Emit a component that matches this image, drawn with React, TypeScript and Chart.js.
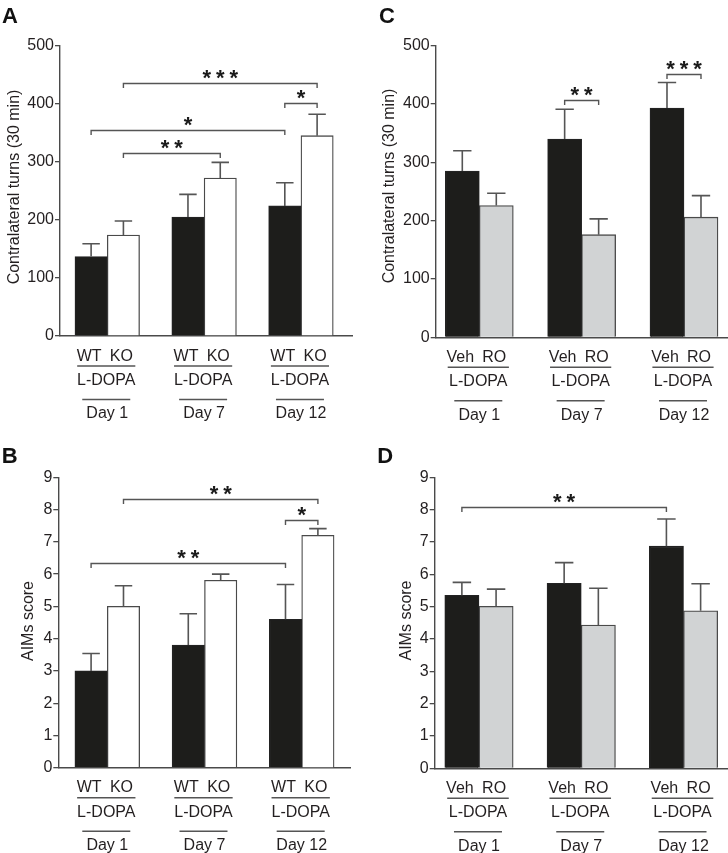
import React, { useEffect, useRef } from 'react';
import { Chart, registerables } from 'chart.js';
Chart.register(...registerables);

const FONT = '"Liberation Sans", Arial, Helvetica, sans-serif';
const TEXT = '#231f20';
const LINE = '#4a4a4a';

// ---------- shared categories ----------
const dayLabels = ['Day 1', 'Day 7', 'Day 12'];
const groupPos = [1, 2, 3];
const treatLabel = 'L-DOPA';

// ---------- Panel A : contralateral turns, WT vs KO ----------
const aSeriesNames = ['WT', 'KO'];
const aWT = [137, 205, 224];
const aWTErr = [159, 244, 264];
const aKO = [174, 272, 345];
const aKOErr = [198, 299, 382];
// [fromGroup, fromSeries, toGroup, toSeries, yValue, label]
const aBrackets: [number, number, number, number, number, string][] = [
  [0, 1, 2, 1, 435, '***'],
  [2, 0, 2, 1, 401, '*'],
  [0, 0, 2, 0, 354, '*'],
  [0, 1, 1, 1, 316, '**'],
];

// ---------- Panel B : AIMs score, WT vs KO ----------
const bSeriesNames = ['WT', 'KO'];
const bWT = [3.0, 3.8, 4.6];
const bWTErr = [3.54, 4.77, 5.68];
const bKO = [5.0, 5.81, 7.2];
const bKOErr = [5.64, 6.0, 7.41];
const bBrackets: [number, number, number, number, number, string][] = [
  [0, 1, 2, 1, 8.32, '**'],
  [2, 0, 2, 1, 7.69, '*'],
  [0, 0, 2, 0, 6.34, '**'],
];

// ---------- Panel C : contralateral turns, Veh vs RO ----------
const cSeriesNames = ['Veh', 'RO'];
const cVeh = [285, 340, 393];
const cVehErr = [320, 391, 437];
const cRO = [226, 176, 206];
const cROErr = [247, 203, 243];
const cBrackets: [number, number, number, number, number, string][] = [
  [1, 0, 1, 1, 407, '**'],
  [2, 0, 2, 1, 452, '***'],
];

// ---------- Panel D : AIMs score, Veh vs RO ----------
const dSeriesNames = ['Veh', 'RO'];
const dVeh = [5.35, 5.72, 6.87];
const dVehErr = [5.75, 6.36, 7.71];
const dRO = [5.01, 4.43, 4.87];
const dROErr = [5.54, 5.57, 5.71];
const dBrackets: [number, number, number, number, number, string][] = [
  [0, 0, 2, 0, 8.07, '**'],
];

const yTitleTurns = 'Contralateral turns (30 min)';
const yTitleAims = 'AIMs score';

type Series = { vals: number[]; err: number[]; fill: string; border: string };
type Panel = {
  letter: string;
  left: number;
  top: number;
  pad: { top: number; bottom: number; left: number; right: number };
  yWidth: number;
  xMin: number;
  xMax: number;
  barT: number;
  yMax: number;
  step: number;
  yTitle: string;
  yTitlePos: [number, number];
  letterPos: [number, number];
  seriesNames: string[];
  series: Series[];
  brackets: [number, number, number, number, number, string][];
};

const BLACK = '#1d1d1b';
const WHITE = '#ffffff';
const GREY = '#d1d3d4';

const panels: Panel[] = [
  {
    letter: 'A', left: 0, top: 0,
    pad: { top: 45.7, bottom: 90, left: 0, right: 12 }, yWidth: 60,
    xMin: 0.512, xMax: 3.527, barT: 32.3, yMax: 500, step: 100,
    yTitle: yTitleTurns, yTitlePos: [15, 187], letterPos: [2, 23],
    seriesNames: aSeriesNames,
    series: [
      { vals: aWT, err: aWTErr, fill: BLACK, border: '#222' },
      { vals: aKO, err: aKOErr, fill: WHITE, border: LINE },
    ],
    brackets: aBrackets,
  },
  {
    letter: 'C', left: 364, top: 0,
    pad: { top: 45.7, bottom: 88.7, left: 0, right: 0 }, yWidth: 71.7,
    xMin: 0.574, xMax: 3.43, barT: 34, yMax: 500, step: 100,
    yTitle: yTitleTurns, yTitlePos: [26, 186], letterPos: [15, 22.7],
    seriesNames: cSeriesNames,
    series: [
      { vals: cVeh, err: cVehErr, fill: BLACK, border: '#222' },
      { vals: cRO, err: cROErr, fill: GREY, border: LINE },
    ],
    brackets: cBrackets,
  },
  {
    letter: 'B', left: 0, top: 427,
    pad: { top: 50.3, bottom: 85.3, left: 0, right: 14 }, yWidth: 58.3,
    xMin: 0.496, xMax: 3.497, barT: 32.4, yMax: 9, step: 1,
    yTitle: yTitleAims, yTitlePos: [28.5, 194], letterPos: [1.7, 35.7],
    seriesNames: bSeriesNames,
    series: [
      { vals: bWT, err: bWTErr, fill: BLACK, border: '#222' },
      { vals: bKO, err: bKOErr, fill: WHITE, border: LINE },
    ],
    brackets: bBrackets,
  },
  {
    letter: 'D', left: 364, top: 427,
    pad: { top: 50.3, bottom: 84.7, left: 0, right: 0 }, yWidth: 70.7,
    xMin: 0.567, xMax: 3.435, barT: 34.2, yMax: 9, step: 1,
    yTitle: yTitleAims, yTitlePos: [42.5, 193.5], letterPos: [13.3, 35.7],
    seriesNames: dSeriesNames,
    series: [
      { vals: dVeh, err: dVehErr, fill: BLACK, border: '#222' },
      { vals: dRO, err: dROErr, fill: GREY, border: LINE },
    ],
    brackets: dBrackets,
  },
];

function makePlugin(p: Panel) {
  return {
    id: 'extras' + p.letter,
    afterDatasetsDraw(chart: any) {
      const ctx: CanvasRenderingContext2D = chart.ctx;
      const ys = chart.scales.y;
      const xs = chart.scales.x;
      const bottom = chart.chartArea.bottom;
      ctx.save();
      // error bars (upper whisker only)
      p.series.forEach((s, di) => {
        const meta = chart.getDatasetMeta(di);
        meta.data.forEach((bar: any, j: number) => {
          const top = ys.getPixelForValue(s.err[j]);
          const cx = bar.x;
          const half = bar.width * 0.27;
          ctx.strokeStyle = '#555';
          ctx.lineWidth = 1.6;
          ctx.beginPath();
          ctx.moveTo(cx, bar.y);
          ctx.lineTo(cx, top);
          ctx.moveTo(cx - half, top);
          ctx.lineTo(cx + half, top);
          ctx.stroke();
        });
      });
      // significance brackets
      const cxOf = (g: number, s: number) => chart.getDatasetMeta(s).data[g].x;
      p.brackets.forEach(([g1, s1, g2, s2, v, label]) => {
        const x1 = cxOf(g1, s1);
        const x2 = cxOf(g2, s2);
        const y = Math.round(ys.getPixelForValue(v)) + 0.5;
        ctx.strokeStyle = '#555';
        ctx.lineWidth = 1.4;
        ctx.beginPath();
        ctx.moveTo(x1, y + 4.5);
        ctx.lineTo(x1, y);
        ctx.lineTo(x2, y);
        ctx.lineTo(x2, y + 4.5);
        ctx.stroke();
        ctx.fillStyle = '#1a1a1a';
        ctx.font = 'bold 22px ' + FONT;
        ctx.textAlign = 'center';
        ctx.textBaseline = 'alphabetic';
        const n = label.length;
        const mid = (x1 + x2) / 2;
        for (let i = 0; i < n; i++) {
          ctx.fillText('*', mid + (i - (n - 1) / 2) * 13.5, y + 1);
        }
      });
      // multi-level x labels
      ctx.font = '16px ' + FONT;
      ctx.fillStyle = TEXT;
      ctx.textAlign = 'center';
      ctx.textBaseline = 'alphabetic';
      groupPos.forEach((g, gi) => {
        const gc = xs.getPixelForValue(g);
        p.seriesNames.forEach((name, si) => {
          const bx = chart.getDatasetMeta(si).data[gi].x;
          ctx.fillText(name, bx - 2, bottom + 24.5);
        });
        ctx.fillText(treatLabel, gc - 1, bottom + 49);
        ctx.fillText(dayLabels[gi], gc, bottom + 82.3);
        const w1 = p.barT * 2 * 0.9;
        ctx.strokeStyle = '#555';
        ctx.lineWidth = 1.4;
        ctx.beginPath();
        ctx.moveTo(gc - 1 - w1 / 2, bottom + 30);
        ctx.lineTo(gc - 1 + w1 / 2, bottom + 30);
        ctx.moveTo(gc - 1 - 24, bottom + 63.5);
        ctx.lineTo(gc - 1 + 24, bottom + 63.5);
        ctx.stroke();
      });
      // y title
      ctx.save();
      ctx.translate(p.yTitlePos[0], p.yTitlePos[1]);
      ctx.rotate(-Math.PI / 2);
      ctx.textBaseline = 'middle';
      ctx.textAlign = 'center';
      ctx.font = '16px ' + FONT;
      ctx.fillText(p.yTitle, 0, 0);
      ctx.restore();
      // panel letter
      ctx.font = 'bold 22px ' + FONT;
      ctx.textAlign = 'left';
      ctx.textBaseline = 'alphabetic';
      ctx.fillStyle = '#111';
      ctx.fillText(p.letter, p.letterPos[0], p.letterPos[1]);
      ctx.restore();
    },
  };
}

function PanelChart({ p }: { p: Panel }) {
  const ref = useRef<HTMLCanvasElement | null>(null);
  useEffect(() => {
    if (!ref.current) return;
    const chart = new Chart(ref.current, {
      type: 'bar',
      data: {
        datasets: p.series.map((s, i) => ({
          label: p.seriesNames[i],
          data: groupPos.map((g, j) => ({ x: g, y: s.vals[j] })),
          backgroundColor: s.fill,
          borderColor: s.border,
          borderWidth: 1.3,
          barThickness: p.barT,
        })),
      },
      options: {
        animation: false,
        responsive: false,
        maintainAspectRatio: false,
        devicePixelRatio: 1,
        layout: { padding: p.pad },
        plugins: { legend: { display: false }, tooltip: { enabled: false } },
        scales: {
          x: {
            type: 'linear',
            offset: false,
            min: p.xMin,
            max: p.xMax,
            afterBuildTicks: (scale: any) => {
              scale.ticks = groupPos.map((v) => ({ value: v }));
            },
            afterFit: (scale: any) => {
              scale.height = 0;
            },
            ticks: { display: false },
            grid: { display: false, offset: false },
            border: { display: true, color: LINE, width: 1.4 },
          },
          y: {
            min: 0,
            max: p.yMax,
            afterFit: (scale: any) => {
              scale.width = p.yWidth;
            },
            ticks: {
              stepSize: p.step,
              padding: 1,
              color: TEXT,
              font: { family: FONT, size: 16 },
            },
            grid: {
              display: true,
              drawOnChartArea: false,
              drawTicks: true,
              tickLength: 5,
              color: LINE,
              lineWidth: 1.3,
            },
            border: { display: true, color: LINE, width: 1.4 },
          },
        },
      },
      plugins: [makePlugin(p)],
    } as any);
    return () => chart.destroy();
  }, [p]);
  return (
    <canvas
      ref={ref}
      width={364}
      height={426}
      style={{ position: 'absolute', left: p.left, top: p.top, width: 364, height: 426 }}
    />
  );
}

export default function App() {
  return (
    <div style={{ position: 'absolute', left: 0, top: 0, width: 728, height: 853, background: '#fff', overflow: 'hidden' }}>
      {panels.map((p) => (
        <PanelChart key={p.letter} p={p} />
      ))}
    </div>
  );
}
